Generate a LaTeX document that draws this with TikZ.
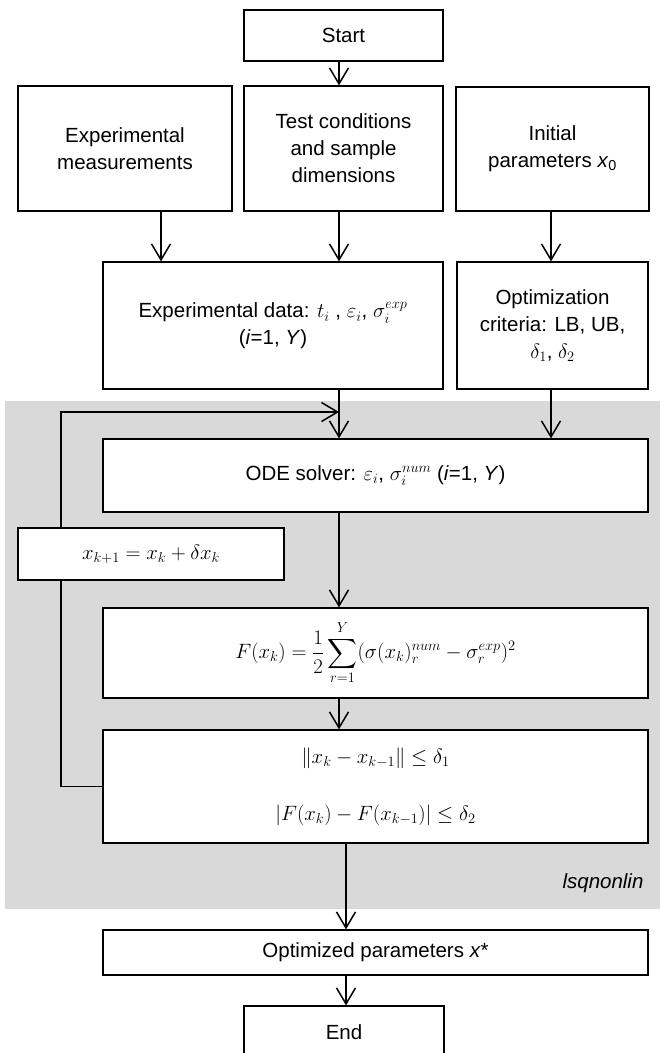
\documentclass[tikz,border=0pt]{standalone}
\usepackage{amsmath}
\usepackage{fontspec}
\setmainfont{Liberation Sans}
\usetikzlibrary{arrows.meta,calc}
\newcommand\bx[6]{\node[box, minimum width={#4-#2}, minimum height={#5-#3}] (#1) at ({(#2+#4)/2},{(#3+#5)/2}) {#6};}
\begin{document}
\begin{tikzpicture}[x=1pt,y=-1pt,
  font=\fontsize{20.5}{27}\selectfont,
  box/.style={draw, line width=1.3pt, fill=white, inner sep=0pt, align=center},
  arr/.style={line width=1.5pt, -{Straight Barb[length=16pt,width=19pt]}},
  link/.style={line width=1.5pt}]
\useasboundingbox (0,0) rectangle (660,1053);
\clip (0,0) rectangle (660,1053);
\fill[black!15] (5,401) rectangle (660,909);
\bx{start}{244}{10}{443}{61}{Start}
\bx{meas}{18}{86}{232}{211}{Experimental\\measurements}
\bx{test}{244}{86}{443}{211}{Test conditions\\and sample\\dimensions}
\bx{init}{456}{87}{649}{211}{Initial\\parameters \textit{x}\textsubscript{0}}
\bx{data}{103}{262}{443}{389}{Experimental data: $t_i$ , $\varepsilon_i$, $\sigma_i^{exp}$\\(\textit{i}=1, \textit{Y})}
\bx{crit}{457}{262}{648}{389}{Optimization\\criteria: LB, UB,\\$\delta_1$, $\delta_2$}
\bx{ode}{103}{439}{648}{512}{ODE solver: $\varepsilon_i$, $\sigma_i^{num}$ (\textit{i}=1, \textit{Y})}
\bx{upd}{18}{528}{284}{580}{$x_{k+1}=x_k+\delta x_k$}
\bx{obj}{103}{608}{648}{698}{$\displaystyle F(x_k)=\frac{1}{2}\sum_{r=1}^{Y}(\sigma(x_k)_r^{num}-\sigma_r^{exp})^2$}
\bx{conv}{103}{730}{648}{843}{$\|x_k - x_{k-1}\|\le\delta_1$\\[30pt]$|F(x_k)-F(x_{k-1})|\le\delta_2$}
\bx{opt}{103}{930}{648}{975}{Optimized parameters \textit{x}*}
\bx{end}{244}{1006}{444}{1058}{End}
\node[anchor=east, font=\fontsize{20.5}{27}\selectfont\itshape] (lsq) at (647,883) {lsqnonlin};
\coordinate (cx) at (339,0);
\coordinate (lx) at (161,0);
\coordinate (rx) at (551,0);
\coordinate (bx) at (346,0);
\coordinate (fx) at (61,0);
\coordinate (fbt) at (339,412);
\draw[arr] (start.south -| cx) -- (test.north -| cx);
\draw[arr] (meas.south -| lx) -- (data.north -| lx);
\draw[arr] (test.south -| cx) -- (data.north -| cx);
\draw[arr] (init.south -| rx) -- (crit.north -| rx);
\draw[arr] (data.south -| cx) -- (ode.north -| cx);
\draw[arr] (crit.south -| rx) -- (ode.north -| rx);
\draw[arr] (ode.south -| cx) -- (obj.north -| cx);
\draw[arr] (obj.south -| cx) -- (conv.north -| cx);
\draw[arr] (conv.south -| bx) -- (opt.north -| bx);
\draw[arr] (opt.south -| bx) -- (end.north -| bx);
\draw[link] (conv.west) -| (upd.south -| fx);
\draw[arr] (upd.north -| fx) |- (fbt);
\end{tikzpicture}
\end{document}
